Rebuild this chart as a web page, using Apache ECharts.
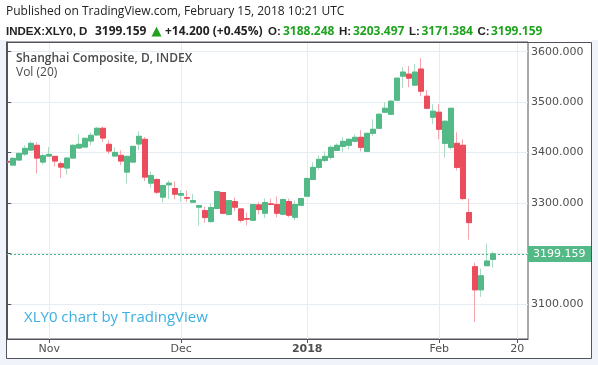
<!DOCTYPE html>
<html>
<head>
<meta charset="utf-8">
<script src="https://cdn.jsdelivr.net/npm/echarts@6/dist/echarts.min.js"></script>
<style>
html,body{margin:0;padding:0;background:#fff;}
#chart{width:598px;height:365px;}
</style>
</head>
<body>
<div id="chart"></div>
<script>
// ---- data ----
const dates = [
 '2017-10-23','2017-10-24','2017-10-25','2017-10-26','2017-10-27','2017-10-30','2017-10-31',
 '2017-11-01','2017-11-02','2017-11-03','2017-11-06','2017-11-07','2017-11-08','2017-11-09','2017-11-10',
 '2017-11-13','2017-11-14','2017-11-15','2017-11-16','2017-11-17','2017-11-20','2017-11-21','2017-11-22',
 '2017-11-23','2017-11-24','2017-11-27','2017-11-28','2017-11-29','2017-11-30',
 '2017-12-01','2017-12-04','2017-12-05','2017-12-06','2017-12-07','2017-12-08','2017-12-11','2017-12-12',
 '2017-12-13','2017-12-14','2017-12-15','2017-12-18','2017-12-19','2017-12-20','2017-12-21','2017-12-22',
 '2017-12-25','2017-12-26','2017-12-27','2017-12-28','2017-12-29',
 '2018-01-02','2018-01-03','2018-01-04','2018-01-05','2018-01-08','2018-01-09','2018-01-10','2018-01-11',
 '2018-01-12','2018-01-15','2018-01-16','2018-01-17','2018-01-18','2018-01-19','2018-01-22','2018-01-23',
 '2018-01-24','2018-01-25','2018-01-26','2018-01-29','2018-01-30','2018-01-31',
 '2018-02-01','2018-02-02','2018-02-05','2018-02-06','2018-02-07','2018-02-08','2018-02-09','2018-02-12',
 '2018-02-13','2018-02-14',
 '2018-02-15','2018-02-16','2018-02-19','2018-02-20','2018-02-21'
];
const openV = [
 3382.5,3375.2,3385.2,3397.1,3405.0,3414.4,3381.2,
 3393.1,3392.5,3377.9,3369.3,3389.1,3409.0,3411.0,3423.0,
 3434.9,3448.2,3416.4,3393.1,3394.5,3361.3,3381.2,3417.0,
 3426.3,3339.4,3346.7,3311.6,3336.1,3328.8,
 3315.5,3310.6,3301.6,3291.7,3285.0,3263.1,3289.0,3320.8,
 3277.1,3302.9,3288.3,3269.1,3265.8,3296.3,3279.7,3298.3,
 3297.0,3277.7,3302.9,3271.8,3295.6,
 3313.5,3346.7,3370.6,3384.5,3390.5,3404.4,3412.4,3414.4,
 3422.3,3430.3,3402.4,3438.2,3448.2,3480.0,3476.0,3503.9,
 3551.6,3555.6,3533.7,3565.6,3511.8,3470.1,
 3480.0,3418.3,3410.4,3418.3,3414.4,3281.1,3173.6,3127.8,
 3175.6,3188.248
];
const highV = [
 3386.5,3391.1,3399.0,3414.4,3422.3,3420.3,3397.8,
 3411.0,3393.0,3382.5,3391.1,3416.4,3436.2,3428.8,3439.6,
 3450.8,3452.2,3424.3,3410.4,3404.4,3393.8,3413.0,3442.2,
 3430.9,3362.6,3348.7,3335.3,3344.7,3342.7,
 3324.8,3324.8,3317.5,3295.5,3293.0,3299.0,3323.3,3321.3,
 3305.4,3310.9,3288.8,3281.1,3297.5,3301.6,3309.0,3308.9,
 3312.9,3308.9,3308.9,3304.9,3309.5,
 3350.7,3380.5,3394.4,3402.4,3414.4,3418.3,3430.3,3428.3,
 3436.2,3444.2,3438.7,3466.1,3478.0,3499.9,3503.9,3548.1,
 3569.5,3571.5,3575.5,3587.4,3523.8,3495.9,
 3495.9,3464.1,3488.4,3440.2,3426.3,3308.9,3181.5,3169.6,
 3219.4,3203.497
];
const lowV = [
 3376.5,3374.6,3383.2,3393.1,3403.1,3358.6,3376.5,
 3391.1,3372.5,3349.4,3356.7,3389.1,3407.1,3410.4,3414.4,
 3434.3,3421.0,3397.1,3392.5,3375.2,3338.8,3379.2,3405.1,
 3343.4,3329.5,3317.5,3301.6,3307.6,3307.6,
 3302.9,3302.3,3300.3,3255.2,3260.5,3261.2,3288.5,3279.1,
 3275.7,3283.7,3261.2,3255.9,3265.3,3277.7,3270.0,3295.6,
 3271.8,3275.7,3271.8,3265.8,3293.6,
 3313.0,3346.2,3366.6,3380.5,3386.5,3403.1,3400.4,3406.4,
 3420.3,3402.4,3401.9,3432.3,3447.7,3478.0,3475.5,3503.4,
 3527.8,3529.7,3533.2,3511.8,3486.0,3456.1,
 3426.3,3390.5,3406.4,3364.6,3304.9,3227.3,3064.2,3113.9,
 3175.1,3171.384
];
const closeV = [
 3380.9,3388.5,3398.4,3408.4,3418.3,3389.1,3393.8,
 3396.4,3383.2,3371.2,3389.1,3414.4,3416.4,3428.3,3434.3,
 3448.2,3428.9,3403.1,3400.4,3383.2,3392.5,3412.4,3432.3,
 3351.4,3354.7,3321.5,3334.8,3339.4,3317.5,
 3318.8,3309.6,3304.9,3295.0,3271.1,3291.0,3322.8,3279.7,
 3304.9,3291.7,3265.8,3267.8,3297.0,3287.0,3301.0,3297.3,
 3279.7,3306.9,3275.7,3297.0,3308.9,
 3348.7,3370.6,3386.5,3392.5,3410.4,3414.4,3422.3,3426.3,
 3430.3,3410.4,3438.2,3446.2,3476.0,3487.9,3501.9,3547.6,
 3559.6,3547.6,3559.6,3521.8,3488.0,3482.0,
 3446.2,3462.1,3487.9,3370.6,3308.9,3261.1,3127.8,3155.7,
 3184.959,3199.159
];
const xTickDates = ['2017-11-01','2017-12-01','2018-01-02','2018-02-01','2018-02-20'];
const xTickLabels = ['Nov','Dec','2018','Feb','20'];
const yTicks = [3100,3200,3300,3400,3500,3600];

// ---- build ----
const UP = '#53b987', DOWN = '#eb4d5c', UPW = '#a9dcc3', DOWNW = '#f5a6ad';
const FRAME = '#50535e';
const MARGIN = '#f0f3fa';
const HDRGREEN = '#1fa31f';
const xTickIdx = xTickDates.map(d => dates.indexOf(d));
const full = [], bodies = [];
for (let i = 0; i < closeV.length; i++) {
  full.push([i, openV[i], closeV[i], lowV[i], highV[i]]);
  bodies.push([i, openV[i], closeV[i], Math.min(openV[i], closeV[i]), Math.max(openV[i], closeV[i])]);
}
const last = closeV.length - 1;
const lastClose = closeV[last];
const chg = closeV[last] - closeV[last - 1];
const chgPct = chg / closeV[last - 1] * 100;

const chart = echarts.init(document.getElementById('chart'), null, {renderer: 'canvas'});
const axisFont = {fontFamily: 'DejaVu Sans', fontSize: 11, color: '#4f4f4f'};
const hdrFont = 'Open Sans';
const boldFont = 'Liberation Sans';
const hdr2 =
  '{b0|INDEX:XLY0, D}{n0|' + lastClose.toFixed(3) + '}{g|▲}{n1|+' + chg.toFixed(3) + ' (+' + chgPct.toFixed(2) + '%)}' +
  '{bo|O:}{v|' + openV[last].toFixed(3) + '}{bh|H:}{v|' + highV[last].toFixed(3) + '}' +
  '{bl|L:}{v|' + lowV[last].toFixed(3) + '}{bc|C:}{v|' + closeV[last].toFixed(3) + '}';
const bStyle = w => ({fontFamily: boldFont, fontSize: 11.5, fontWeight: 'bold', color: '#222', width: w});
const option = {
  animation: false,
  backgroundColor: '#fff',
  title: [
    {text: 'Published on TradingView.com, February 15, 2018 10:21 UTC', left: 6, top: 6, padding: 0,
     textStyle: {fontFamily: hdrFont, fontSize: 12, fontWeight: 'normal', color: '#222'}},
    {text: hdr2, left: 6, top: 25.5, padding: 0,
     textStyle: {fontFamily: hdrFont, fontSize: 12, rich: {
       b0: bStyle(89), bo: bStyle(15), bh: bStyle(14), bl: bStyle(12.5), bc: bStyle(13.5),
       n0: {fontFamily: hdrFont, fontSize: 12, color: '#222', width: 56.5},
       n1: {fontFamily: hdrFont, fontSize: 12, color: '#222', width: 103},
       g: {fontFamily: 'DejaVu Sans', fontSize: 13, color: HDRGREEN, width: 13.5},
       v: {fontFamily: hdrFont, fontSize: 12, color: HDRGREEN, width: 56}
     }}},
    {text: 'Shanghai Composite, D, INDEX', left: 16, top: 53, padding: 0,
     textStyle: {fontFamily: hdrFont, fontSize: 12, fontWeight: 600, color: '#4a4a4a'}},
    {text: 'Vol (20)', left: 16, top: 67, padding: 0,
     textStyle: {fontFamily: hdrFont, fontSize: 12, fontWeight: 'normal', color: '#4a4a4a'}},
    {text: 'XLY0 chart by TradingView', left: 24, top: 310, padding: 0,
     textStyle: {fontFamily: hdrFont, fontSize: 15, fontWeight: 'normal', color: '#3cb0e2'}}
  ],
  grid: {left: 6, top: 42, right: 70, bottom: 26, show: true, borderColor: FRAME, borderWidth: 1, backgroundColor: '#fff'},
  xAxis: {
    type: 'value', min: -0.2, max: 86.8,
    axisLine: {show: true, lineStyle: {color: FRAME}},
    axisTick: {show: true, length: 4, lineStyle: {color: FRAME}, customValues: xTickIdx},
    axisLabel: {show: true, customValues: xTickIdx, margin: 5, ...axisFont,
      formatter: v => { const s = xTickLabels[xTickIdx.indexOf(v)]; return s === '2018' ? '{bd|' + s + '}' : s; },
      rich: {bd: {fontFamily: 'DejaVu Sans', fontSize: 11, fontWeight: 'bold', color: '#4f4f4f'}}},
    splitLine: {show: true, lineStyle: {color: '#e6edf2', width: 1}}
  },
  yAxis: {
    type: 'value', position: 'right', min: 3030.3, max: 3619.3, scale: true,
    axisLine: {show: true, lineStyle: {color: FRAME}},
    axisTick: {show: true, length: 4, lineStyle: {color: FRAME}, customValues: yTicks},
    axisLabel: {show: true, customValues: yTicks, margin: 3, ...axisFont, formatter: v => v.toFixed(3)},
    splitLine: {show: true, lineStyle: {color: '#e6edf2', width: 1}}
  },
  series: [
    {type: 'candlestick', data: full, encode: {x: 0, y: [1, 2, 3, 4]}, barWidth: 5, clip: true,
     itemStyle: {color: UPW, color0: DOWNW, borderColor: UPW, borderColor0: DOWNW, borderWidth: 1},
     markLine: {silent: true, symbol: 'none', label: {show: false},
       lineStyle: {color: UP, type: [2, 2], width: 1}, data: [{yAxis: lastClose}]}},
    {type: 'candlestick', data: bodies, encode: {x: 0, y: [1, 2, 3, 4]}, barWidth: 5, clip: true,
     itemStyle: {color: UP, color0: DOWN, borderColor: UP, borderColor0: DOWN, borderWidth: 1}}
  ]
};
chart.setOption(option);
const py = chart.convertToPixel({yAxisIndex: 0}, lastClose);
chart.setOption({
  graphic: [
    {type: 'rect', z: 100, shape: {x: 0, y: 40, width: 6, height: 325}, style: {fill: MARGIN}},
    {type: 'rect', z: 100, shape: {x: 0, y: 359, width: 598, height: 6}, style: {fill: MARGIN}},
    {type: 'rect', z: 100, shape: {x: 592, y: 40, width: 6, height: 325}, style: {fill: MARGIN}},
    {type: 'rect', z: 100, shape: {x: 6.5, y: 42.5, width: 585, height: 316}, style: {fill: 'none', stroke: FRAME, lineWidth: 1}},
    {type: 'rect', z: 100, shape: {x: 528, y: Math.round(py) - 8, width: 63, height: 16}, style: {fill: UP}},
    {type: 'text', z: 101, x: 533, y: Math.round(py), style: {text: lastClose.toFixed(3), fill: '#fff', font: '11px "DejaVu Sans"', textVerticalAlign: 'middle'}}
  ]
});
</script>
</body>
</html>
